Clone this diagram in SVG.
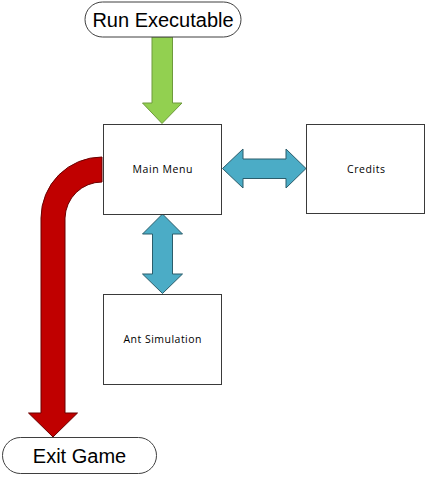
<svg xmlns="http://www.w3.org/2000/svg" width="427" height="477" viewBox="0 0 427 477">
<style>
.term{fill:#fff;stroke:#3f3f3f;stroke-width:1}
.box{fill:#fff;stroke:#3a3a3a;stroke-width:1}
.big{font-family:"Liberation Sans",Arial,sans-serif;font-size:20px;fill:#000;text-anchor:middle}
.small{font-family:"Open Sans","Liberation Sans",sans-serif;font-size:10.5px;fill:#000;text-anchor:middle}
.green{fill:#92D050;stroke:#6e9a3c;stroke-width:1}
.blue{fill:#4BACC6;stroke:#2b5d6b;stroke-width:1}
.red{fill:#C00000;stroke:#6b0000;stroke-width:1}
</style>
<rect width="427" height="477" fill="#fff"/>
<g id="connectors">
<path class="green" d="M152,37 H172.5 V103 H182 L162,123.5 L142.5,103 H152 Z"/>
<path class="blue" d="M222.5,168.5 L243,149 V159 H286 V149 L306,168.5 L286,188 V178.5 H243 V188 Z"/>
<path class="blue" d="M162.5,214 L182.5,234 H172.5 V274 H182.5 L162.5,293.5 L142.5,274 H152.5 V234 H142.5 Z"/>
<path class="red" d="M102,157 A61,61 0 0 0 41,218 V413 H28.5 L53,437 L77.5,413 H65 V218 A37,37 0 0 1 102,182 Z"/>
</g>
<g id="run">
<rect class="term" x="85" y="2" width="156" height="35" rx="17.5"/>
<text class="big" x="163" y="26.5">Run Executable</text>
</g>
<g id="mainmenu">
<rect class="box" x="103.5" y="124.5" width="118" height="90"/>
<text class="small" x="162.5" y="172.5" textLength="60" lengthAdjust="spacing">Main Menu</text>
</g>
<g id="credits">
<rect class="box" x="306.5" y="124.5" width="118" height="89"/>
<text class="small" x="366" y="172.5" textLength="38" lengthAdjust="spacing">Credits</text>
</g>
<g id="antsim">
<rect class="box" x="103.5" y="294.5" width="118" height="90"/>
<text class="small" x="162.5" y="342.5" textLength="78" lengthAdjust="spacing">Ant Simulation</text>
</g>
<g id="exit">
<rect class="term" x="2.5" y="437.5" width="154" height="36" rx="18"/>
<text class="big" x="79.5" y="462.5">Exit Game</text>
</g>
</svg>
